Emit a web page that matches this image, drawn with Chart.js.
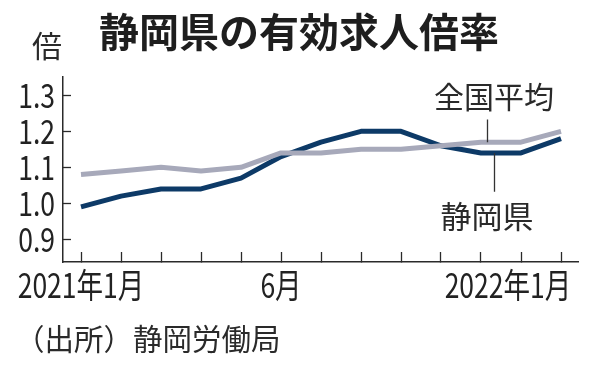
<!DOCTYPE html>
<html><head><meta charset="utf-8">
<script src="https://cdn.jsdelivr.net/npm/chart.js@4.4.0/dist/chart.umd.min.js"></script>
<style>html,body{margin:0;padding:0;background:#fff;} canvas{display:block;}</style>
</head><body>
<canvas id="c" width="596" height="368"></canvas>
<script>
// ---- data ----
const months = ['2021年1月','2月','3月','4月','5月','6月','7月','8月','9月','10月','11月','12月','2022年1月'];
const tickLabels = ['2021年1月','','','','','6月','','','','','','','2022年1月\u3000\u3000\u3000\u3000'];
const shizuoka = [0.99,1.02,1.04,1.04,1.07,1.13,1.17,1.20,1.20,1.16,1.14,1.14,1.18];
const national = [1.08,1.09,1.10,1.09,1.10,1.14,1.14,1.15,1.15,1.16,1.17,1.17,1.20];
const yTicks = [0.9,1.0,1.1,1.2,1.3];
const seriesNames = ['静岡県','全国平均'];
const titleText = '静岡県の有効求人倍率';
const unitText = '倍';
const sourceText = '（出所）静岡労働局';

const JP_FONT = "'Noto Sans CJK JP',sans-serif";
const BLUE = '#0d3a67';
const GRAY = '#a7a9ba';
const AXIS = '#2a2a2a';
const TICK_SCALE = 0.78;

// draws axis tick text horizontally condensed (like the condensed face in the original)
const condense = {
  id: 'condense',
  beforeDraw(chart) {
    const ctx = chart.ctx;
    if (!ctx.__origFillText) {
      ctx.__origFillText = ctx.fillText;
      ctx.fillText = function (t, x, y, w) {
        if (this.__sx && this.__sx !== 1) {
          this.save();
          this.translate(x, y);
          this.scale(this.__sx, 1);
          this.__origFillText(t, 0, 0);
          this.restore();
        } else if (w !== undefined) {
          this.__origFillText(t, x, y, w);
        } else {
          this.__origFillText(t, x, y);
        }
      };
    }
    ctx.__sx = TICK_SCALE;
  },
  beforeDatasetsDraw(chart) { chart.ctx.__sx = 1; }
};

const annot = {
  id: 'annot',
  afterDraw(chart) {
    const {ctx, scales: {x, y}} = chart;
    ctx.save();
    ctx.__sx = 1;
    ctx.fillStyle = '#1e1e1e';
    ctx.textBaseline = 'alphabetic';
    ctx.textAlign = 'left';
    ctx.font = "bold 40px " + JP_FONT;
    ctx.fillText(titleText, 99, 47);
    ctx.fillStyle = '#2a2a2a';
    ctx.font = "30px " + JP_FONT;
    ctx.fillText(unitText, 32, 57);
    ctx.font = "29.5px " + JP_FONT;
    ctx.fillText(sourceText, 15, 350);
    // series labels
    ctx.textAlign = 'center';
    ctx.font = "30px " + JP_FONT;
    ctx.fillText(seriesNames[1], 494, 108);
    ctx.font = "31px " + JP_FONT;
    ctx.fillText(seriesNames[0], 487, 228);
    // leader lines
    ctx.strokeStyle = '#333';
    ctx.lineWidth = 1.3;
    ctx.beginPath();
    const gx = Math.round(x.getPixelForValue(10.16)) + 0.5;
    ctx.moveTo(gx, y.getPixelForValue(1.233));
    ctx.lineTo(gx, y.getPixelForValue(national[10]));
    const bx = Math.round(x.getPixelForValue(10.33)) + 0.5;
    ctx.moveTo(bx, y.getPixelForValue(shizuoka[10]));
    ctx.lineTo(bx, y.getPixelForValue(1.032));
    ctx.stroke();
    ctx.restore();
  }
};

new Chart(document.getElementById('c'), {
  type: 'line',
  data: {
    datasets: [
      { label: seriesNames[1], data: national.map((v, i) => ({x: i, y: v})), borderColor: GRAY, borderWidth: 5, pointRadius: 0, tension: 0, borderJoinStyle: 'round', borderCapStyle: 'butt' },
      { label: seriesNames[0], data: shizuoka.map((v, i) => ({x: i, y: v})), borderColor: BLUE, borderWidth: 5, pointRadius: 0, tension: 0, borderJoinStyle: 'round', borderCapStyle: 'butt' }
    ]
  },
  options: {
    responsive: false,
    devicePixelRatio: 1,
    animation: false,
    events: [],
    layout: { padding: { top: 77, left: 0, right: 18, bottom: 66 } },
    plugins: { legend: { display: false }, tooltip: { enabled: false }, title: { display: false } },
    scales: {
      x: {
        type: 'linear',
        min: -0.45, max: 12.425,
        afterBuildTicks: s => { s.ticks = months.map((m, i) => ({value: i})); },
        afterFit: s => { s.height = 40; s.paddingLeft = 0; s.paddingRight = 0; },
        border: { display: true, color: AXIS, width: 1.5 },
        grid: { drawOnChartArea: false, drawTicks: true, tickLength: -10, tickColor: AXIS, tickWidth: 1.3 },
        ticks: {
          autoSkip: false, maxRotation: 0, padding: 13, color: '#222',
          font: { family: JP_FONT, size: 34 },
          callback: (v) => tickLabels[v] ?? ''
        }
      },
      y: {
        min: 0.837, max: 1.351,
        afterBuildTicks: s => { s.ticks = yTicks.map(v => ({value: v})); },
        afterFit: s => { s.width = 63; s.paddingTop = 0; s.paddingBottom = 0; },
        border: { display: true, color: AXIS, width: 1.5 },
        grid: { drawOnChartArea: false, drawTicks: true, tickLength: -8, tickColor: AXIS, tickWidth: 1.3 },
        ticks: {
          padding: 16, color: '#222',
          font: { family: JP_FONT, size: 34 },
          callback: v => v.toFixed(1)
        }
      }
    }
  },
  plugins: [condense, annot]
});
</script>
</body></html>
